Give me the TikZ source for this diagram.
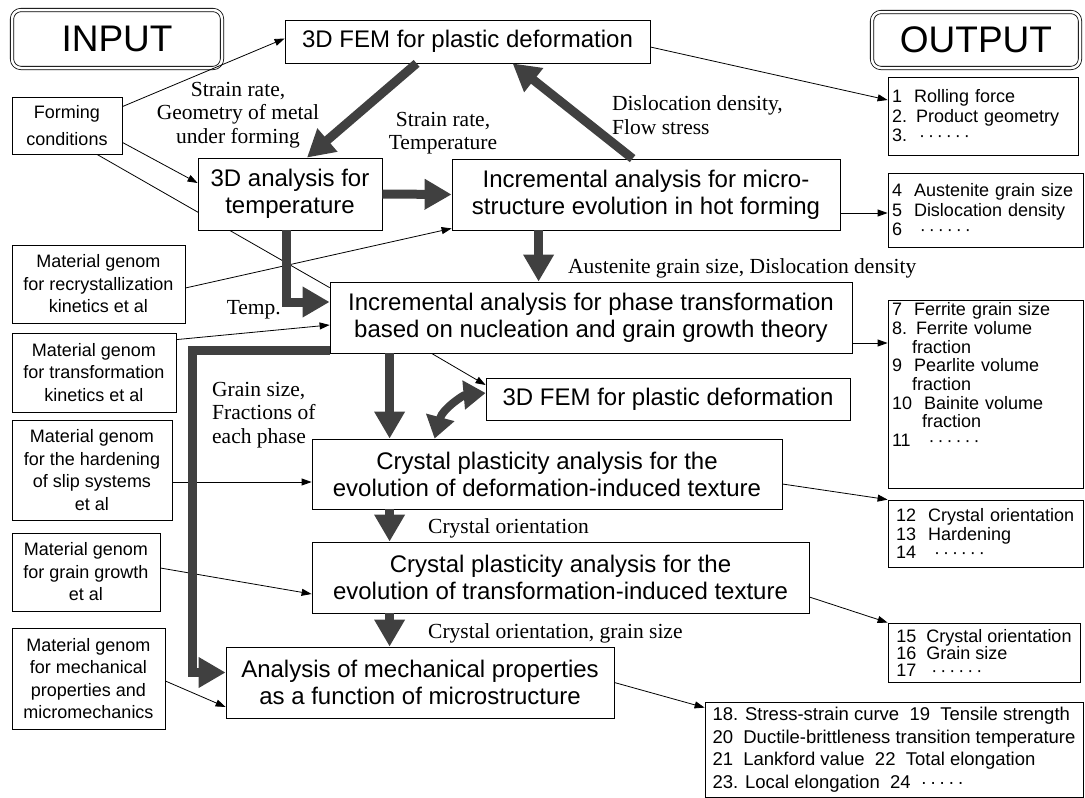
\documentclass[tikz,border=0pt]{standalone}
\usepackage{fontspec}
\setmainfont{Liberation Sans}
\newfontfamily\labelfont{Liberation Serif}
\usetikzlibrary{arrows.meta,calc,backgrounds}
\newcommand{\sixdots}{·\kern3pt·\kern3pt·\kern3pt·\kern3pt·\kern3pt·}
\newcommand{\fivedots}{·\kern3pt·\kern3pt·\kern3pt·\kern3pt·}

\tikzset{
  procbox/.style={draw, fill=white, line width=0.8pt, align=center, inner sep=0pt, font=\fontsize{24}{27}\selectfont},
  genombox/.style={draw, fill=white, line width=0.8pt, align=center, inner sep=0pt, font=\fontsize{18}{22.5}\selectfont},
  outbox/.style={draw, fill=white, line width=0.8pt, align=left, inner xsep=4pt, inner ysep=0pt, font=\fontsize{18}{19.5}\selectfont},
  headbox/.style={draw, double, double distance=2.5pt, line width=0.8pt, rounded corners=9pt, inner sep=0pt, font=\fontsize{37}{40}\selectfont},
  flowlabel/.style={inner sep=0pt, align=left, font=\labelfont\fontsize{21.5}{23.5}\selectfont},
  thinarrow/.style={line width=0.8pt, -{Triangle[length=10pt,width=7pt]}},
  bigarrow/.style={line width=9pt, black!75, -{Triangle[length=27pt,width=29pt]}}
}

\begin{document}
\begin{tikzpicture}[x=1pt,y=-1pt]
\useasboundingbox (0,0) rectangle (1085,798);
\node[headbox, minimum width=210pt, minimum height=58pt] (input) at (117,39) {INPUT};
\node[headbox, minimum width=208pt, minimum height=56pt] (output) at (976,40) {OUTPUT};
\node[procbox, minimum width=365pt, minimum height=43pt] (fem) at (467.5,41.5) {3D FEM for plastic deformation};
\node[genombox, font=\fontsize{18}{27}\selectfont, minimum width=110pt, minimum height=57pt] (forming) at (67,125.5) {Forming\\conditions};
\node[procbox, minimum width=184pt, minimum height=72pt] (temp) at (290,194) {3D analysis for\\temperature};
\node[procbox, minimum width=388pt, minimum height=71pt] (micro) at (646,194.5) {Incremental analysis for micro-\\structure evolution in hot forming};
\node[procbox, minimum width=522pt, minimum height=71pt] (phase) at (591,317.5) {Incremental analysis for phase transformation\\based on nucleation and grain growth theory};
\node[procbox, minimum width=364pt, minimum height=42pt] (fem2) at (668,399) {3D FEM for plastic deformation};
\node[procbox, minimum width=470pt, minimum height=70pt] (cpdef) at (547,474) {Crystal plasticity analysis for the\\evolution of deformation-induced texture};
\node[procbox, minimum width=497pt, minimum height=71pt] (cptrans) at (560.5,577.5) {Crystal plasticity analysis for the\\evolution of transformation-induced texture};
\node[procbox, minimum width=388pt, minimum height=71pt] (mech) at (420,682.5) {Analysis of mechanical properties\\as a function of microstructure};
\node[genombox, minimum width=173pt, minimum height=78pt] (mg1) at (98.5,284) {Material genom\\for recrystallization\\kinetics et al};
\node[genombox, minimum width=164pt, minimum height=79pt] (mg2) at (94,372.5) {Material genom\\for transformation\\kinetics et al};
\node[genombox, minimum width=160pt, minimum height=100pt] (mg3) at (92,470) {Material genom\\for the hardening\\of slip systems\\et al};
\node[genombox, minimum width=148pt, minimum height=78pt] (mg4) at (86,572) {Material genom\\for grain growth\\et al};
\node[genombox, minimum width=153pt, minimum height=101pt] (mg5) at (88.5,678.5) {Material genom\\for mechanical\\properties and\\micromechanics};
\node[outbox, text width=182pt, minimum height=78pt] (out1) at (983,116) {1\ \ Rolling force\\2. Product geometry\\3.\ \ \sixdots};
\node[outbox, text width=187pt, minimum height=74pt] (out2) at (985.5,210) {4\ \ Austenite grain size\\5\ \ Dislocation density\\6\ \ \ \sixdots};
\node[outbox, text width=187pt, minimum height=188pt, font=\fontsize{18}{18.7}\selectfont] (out3) at (985.5,394) {7\ \ Ferrite grain size\\8. Ferrite volume\\\hspace*{20pt}fraction\\9\ \ Pearlite volume\\\hspace*{20pt}fraction\\10\ \ Bainite volume\\\hspace*{30pt}fraction\\11\ \ \ \sixdots\\[20pt]\mbox{}};
\node[outbox, inner xsep=8pt, text width=179pt, minimum height=67pt, font=\fontsize{18}{18.5}\selectfont] (out4) at (985.5,533.5) {12\ \ Crystal orientation\\13\ \ Hardening\\14\ \ \ \sixdots};
\node[outbox, minimum width=192pt, minimum height=59pt, font=\fontsize{18}{17}\selectfont] (out5) at (984,652.5) {15\ \ Crystal orientation\\16\ \ Grain size\\17\ \ \ \sixdots};
\node[outbox, minimum width=378pt, minimum height=95pt, font=\fontsize{18.5}{22.5}\selectfont] (out6) at (894,749.5) {18. Stress-strain curve\ \ 19\ \ Tensile strength\\20\ \ Ductile-brittleness transition temperature\\21\ \ Lankford value\ \ 22\ \ Total elongation\\23. Local elongation\ \ 24\ \ \fivedots};
\node[flowlabel, align=center] (strainlab) at (238,115) {Strain rate,\\Geometry of metal\\under forming};
\node[flowlabel, align=center] (templab) at (443,133) {Strain rate,\\Temperature};
\node[flowlabel, anchor=west] (disloclab) at (612,115) {Dislocation density,\\Flow stress};
\node[flowlabel, anchor=west] (austlab) at (568,268) {Austenite grain size, Dislocation density};
\node[flowlabel, anchor=east] (tlab) at (281,310) {Temp.};
\node[flowlabel, anchor=west] (grainlab) at (212,415) {Grain size,\\Fractions of\\each phase};
\node[flowlabel, anchor=west] (orilab) at (428,528) {Crystal orientation};
\node[flowlabel, anchor=west] (origrlab) at (428,633) {Crystal orientation, grain size};
\begin{scope}[on background layer]
\draw[line width=0.8pt] ($(forming.south)+(30,0)$) -- ($(phase.north west)+(0,6)$);
\end{scope}
\draw[thinarrow] ($(forming.north east)+(0,10)$) -- ($(fem.west)+(0,-3)$);
\draw[thinarrow] ($(forming.south east)+(0,-12)$) -- ($(temp.west)+(0,-11)$);
\draw[thinarrow] ($(mg1.east)+(0,4)$) -- ($(micro.south west)+(0,-2)$);
\draw[thinarrow] ($(mg2.north east)+(0,7)$) -- ($(phase.west)+(0,7.5)$);
\draw[thinarrow] ($(mg3.east)+(0,12)$) -- ($(cpdef.west)+(0,8)$);
\draw[thinarrow] ($(mg4.east)+(0,-4)$) -- ($(cptrans.west)+(0,16.5)$);
\draw[thinarrow] ($(mg5.east)+(0,2.5)$) -- ($(mech.west)+(0,24.5)$);
\draw[thinarrow] ($(fem.east)+(0,5.5)$) -- ($(out1.west)+(0,-16)$);
\draw[thinarrow] ($(micro.east)+(0,18.5)$) -- ($(out2.west)+(0,3)$);
\draw[thinarrow] ($(phase.east)+(0,25.5)$) -- ($(out3.west)+(0,-51)$);
\draw[thinarrow] ($(phase.south west)+(102,0)$) -- ($(fem2.west)+(0,-14)$);
\draw[thinarrow] ($(cpdef.east)+(0,10)$) -- (out4.north west);
\draw[thinarrow] ($(cptrans.east)+(0,19.5)$) -- (out5.north west);
\draw[thinarrow] (mech.east) -- ($(out6.north west)+(0,6)$);
\draw[bigarrow] ($(fem.south west)+(132,0)$) -- ($(temp.north)+(17,0)$);
\draw[bigarrow] ($(micro.north west)+(181,0)$) -- ($(fem.south west)+(228,0)$);
\draw[bigarrow] (temp.east) -- (micro.west);
\draw[bigarrow] ($(micro.south west)+(87,0)$) -- ($(phase.north west)+(209,0)$);
\draw[bigarrow] ($(temp.south west)+(89,0)$) |- ($(phase.west)+(0,-15.5)$);
\draw[bigarrow] ($(phase.south west)+(60,0)$) -- ($(cpdef.north west)+(78,0)$);
\draw[bigarrow, line width=8pt, {Triangle[length=22pt,width=28pt]}-{Triangle[length=22pt,width=28pt]}] ($(cpdef.north west)+(123,0)$) .. controls +(8,-30) and +(-22,2) .. ($(fem2.west)+(0,-6)$);
\draw[bigarrow] ($(cpdef.south west)+(78,0)$) -- ($(cptrans.north west)+(78,0)$);
\draw[bigarrow] ($(cptrans.south west)+(78,0)$) -- ($(mech.north west)+(164,0)$);
\draw[bigarrow] ($(phase.south west)+(0,-3)$) -| ($(mech.west)+(-33,-10)$) -- ($(mech.west)+(0,-10)$);
\end{tikzpicture}
\end{document}
